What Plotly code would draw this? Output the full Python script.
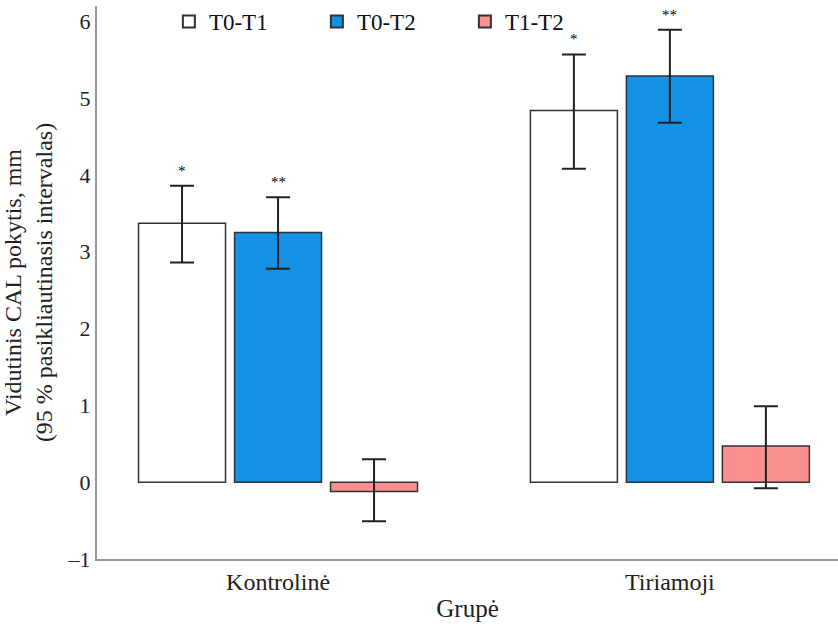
import plotly.graph_objects as go

groups = ["Kontrolinė", "Tiriamoji"]
series = ["T0-T1", "T0-T2", "T1-T2"]
means = {
    "T0-T1": [3.37, 4.84],
    "T0-T2": [3.25, 5.29],
    "T1-T2": [-0.12, 0.47],
}
upper = {
    "T0-T1": [3.86, 5.57],
    "T0-T2": [3.71, 5.89],
    "T1-T2": [0.30, 0.99],
}
lower = {
    "T0-T1": [2.86, 4.08],
    "T0-T2": [2.78, 4.68],
    "T1-T2": [-0.51, -0.08],
}
stars = {
    "T0-T1": ["*", "*"],
    "T0-T2": ["**", "**"],
    "T1-T2": ["", ""],
}
colors = {"T0-T1": "#ffffff", "T0-T2": "#1591e6", "T1-T2": "#fa9090"}
offsets = {"T0-T1": -0.245, "T0-T2": 0.0, "T1-T2": 0.245}

FONT = "Liberation Serif, Times New Roman, serif"
xpos = [0, 1]

fig = go.Figure()
for s in series:
    fig.add_trace(go.Bar(
        name=s,
        x=xpos,
        y=means[s],
        marker=dict(color=colors[s], line=dict(color="#333333", width=1.5)),
        error_y=dict(
            type="data", symmetric=False,
            array=[u - m for u, m in zip(upper[s], means[s])],
            arrayminus=[m - l for m, l in zip(means[s], lower[s])],
            color="#222222", thickness=2, width=12,
        ),
    ))
    for i, g in enumerate(xpos):
        if stars[s][i]:
            fig.add_annotation(
                x=g + offsets[s], y=upper[s][i], xref="x", yref="y",
                text=stars[s][i], showarrow=False, yanchor="bottom", yshift=5,
                font=dict(family=FONT, size=15, color="#000000"),
            )

fig.update_layout(
    width=838, height=624,
    margin=dict(l=97, r=0, t=5, b=65),
    paper_bgcolor="white", plot_bgcolor="white",
    barmode="group", bargap=0.265, bargroupgap=0.094,
    font=dict(family=FONT, size=22, color="#222222"),
    showlegend=True,
    legend=dict(
        orientation="h", x=0.097, xanchor="left", y=1.01, yanchor="top",
        entrywidth=103, entrywidthmode="pixels",
        font=dict(family=FONT, size=23, color="#111111"),
        bgcolor="rgba(0,0,0,0)", itemsizing="constant",
    ),
    xaxis=dict(
        range=[-0.462, 1.429],
        tickmode="array", tickvals=xpos, ticktext=groups,
        showline=True, linecolor="#999999", linewidth=2,
        ticks="", showgrid=False, zeroline=False,
        title=dict(text="Grupė", font=dict(family=FONT, size=25), standoff=6),
        tickfont=dict(family=FONT, size=24),
    ),
    yaxis=dict(
        range=[-1, 6.2],
        tickmode="array", tickvals=[-1, 0, 1, 2, 3, 4, 5, 6],
        ticktext=["–1", "0", "1", "2", "3", "4", "5", "6"],
        showline=True, linecolor="#999999", linewidth=2,
        ticks="", showgrid=False, zeroline=False,
        title=dict(text="Vidutinis CAL pokytis, mm<br>(95 % pasikliautinasis intervalas)",
                   font=dict(family=FONT, size=24), standoff=14),
        tickfont=dict(family=FONT, size=22),
    ),
)

fig.write_html("out.html")
